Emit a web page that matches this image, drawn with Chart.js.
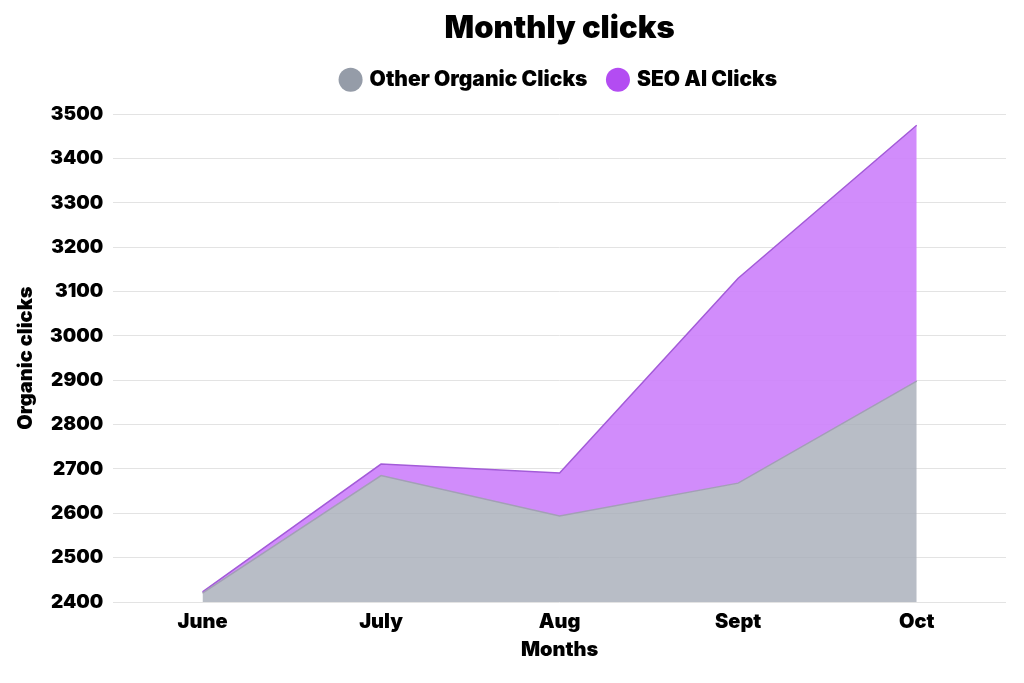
<!DOCTYPE html>
<html>
<head>
<meta charset="utf-8">
<script src="https://cdn.jsdelivr.net/npm/chart.js@4"></script>
<style>
  html, body { margin: 0; padding: 0; background: #fff; }
  #wrap { width: 1024px; height: 683px; }
</style>
</head>
<body>
<div id="wrap"><canvas id="graphiqueClics"></canvas></div>
<script>
// Données
const mois = ['June', 'July', 'Aug', 'Sept', 'Oct'];
const autresClics = [2420, 2685, 2594, 2668, 2898];
const clicsSeoIA = [3, 26, 97, 462, 577];
const ticksY = [2400, 2500, 2600, 2700, 2800, 2900, 3000, 3100, 3200, 3300, 3400, 3500];

const police = "Inter, 'Noto Sans', sans-serif";
Chart.defaults.font.family = police;
Chart.defaults.color = '#000';

// Espace supplémentaire sous la légende
const espaceLegende = {
    id: 'espaceLegende',
    beforeInit(chart) {
        const fitOrigine = chart.legend.fit;
        chart.legend.fit = function () {
            fitOrigine.bind(chart.legend)();
            this.height += 14;
        };
    }
};

const ctx = document.getElementById('graphiqueClics');

new Chart(ctx, {
    type: 'line',
    data: {
        labels: mois,
        datasets: [{
            label: 'Other Organic Clicks',
            data: autresClics,
            backgroundColor: 'rgba(168, 175, 186, 0.82)',
            borderColor: '#a39fb6',
            borderWidth: 1.5,
            pointRadius: 0,
            fill: 'origin',
            tension: 0
        }, {
            label: 'SEO AI Clicks',
            data: clicsSeoIA,
            backgroundColor: 'rgba(204, 128, 251, 0.9)',
            borderColor: '#a35bd8',
            borderWidth: 1.5,
            pointRadius: 0,
            fill: '-1',
            tension: 0
        }]
    },
    options: {
        responsive: true,
        maintainAspectRatio: false,
        animation: false,
        layout: { padding: { left: 10, right: 18, top: 6, bottom: 17 } },
        plugins: {
            title: {
                display: true,
                fullSize: false,
                text: 'Monthly clicks',
                font: { size: 31, weight: 900 },
                padding: { top: 4, bottom: 0 }
            },
            legend: {
                display: true,
                fullSize: false,
                labels: {
                    usePointStyle: true,
                    pointStyle: 'circle',
                    boxWidth: 17,
                    boxHeight: 17,
                    padding: 22,
                    font: { size: 21, weight: 900 },
                    generateLabels: chart => chart.data.datasets.map((ds, i) => ({
                        text: ds.label,
                        fillStyle: i === 0 ? '#959ca8' : '#b34cf2',
                        strokeStyle: i === 0 ? '#959ca8' : '#b34cf2',
                        lineWidth: 0,
                        pointStyle: 'circle',
                        datasetIndex: i
                    }))
                }
            },
            tooltip: { enabled: false }
        },
        scales: {
            x: {
                offset: true,
                grid: { display: false },
                border: { display: false },
                ticks: { font: { size: 20, weight: 900 }, padding: 0 },
                title: {
                    display: true,
                    text: 'Months',
                    font: { size: 20, weight: 900 },
                    padding: { top: 4 }
                }
            },
            y: {
                stacked: true,
                min: 2400,
                max: 3500,
                afterBuildTicks: axis => { axis.ticks = ticksY.map(v => ({ value: v })); },
                grid: { color: '#e3e3e3', drawTicks: false },
                border: { display: false },
                ticks: {
                    font: { size: 19, weight: 900 },
                    padding: 10,
                    callback: v => String(v)
                },
                title: {
                    display: true,
                    text: 'Organic clicks',
                    font: { size: 20, weight: 900 },
                    padding: { top: 4, bottom: 2 }
                }
            }
        }
    },
    plugins: [espaceLegende]
});
</script>
</body>
</html>
